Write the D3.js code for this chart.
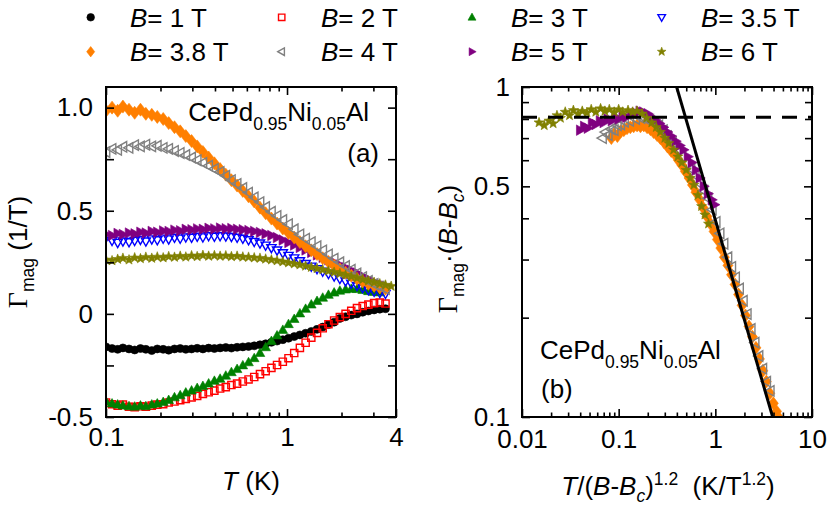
<!DOCTYPE html>
<html><head><meta charset="utf-8">
<script src="https://cdn.jsdelivr.net/npm/d3@7"></script>
<style>
body{margin:0;background:#fff}
svg{display:block}
text{white-space:pre}
</style></head><body>
<svg id="c" width="830" height="517"></svg>
<script>
// ---------- DATA ----------
const tempK = [0.100,0.108,0.116,0.124,0.134,0.144,0.155,0.166,0.179,0.192,0.207,0.222,0.239,0.257,0.276,0.297,0.319,0.343,0.369,0.397,0.427,0.459,0.493,0.530,0.570,0.613,0.659,0.709,0.762,0.820,0.881,0.948,1.019,1.096,1.178,1.267,1.362,1.465,1.575,1.694,1.821,1.958,2.106,2.264,2.435,2.618,2.815,3.027,3.255,3.500,3.763];

const gB1 = [-0.160,-0.168,-0.172,-0.165,-0.170,-0.175,-0.168,-0.172,-0.178,-0.170,-0.172,-0.176,-0.170,-0.168,-0.172,-0.170,-0.167,-0.170,-0.166,-0.168,-0.165,-0.163,-0.166,-0.162,-0.160,-0.158,-0.155,-0.150,-0.145,-0.138,-0.132,-0.125,-0.118,-0.110,-0.102,-0.094,-0.085,-0.075,-0.064,-0.052,-0.040,-0.022,-0.014,-0.006,0.000,0.008,0.014,0.019,0.023,0.025];
const gB2 = [-0.430,-0.438,-0.445,-0.440,-0.450,-0.452,-0.448,-0.450,-0.445,-0.440,-0.438,-0.430,-0.425,-0.418,-0.412,-0.405,-0.398,-0.388,-0.380,-0.372,-0.362,-0.355,-0.345,-0.338,-0.328,-0.318,-0.306,-0.292,-0.278,-0.262,-0.248,-0.232,-0.215,-0.190,-0.165,-0.140,-0.115,-0.092,-0.070,-0.050,-0.032,-0.016,0.000,0.015,0.028,0.038,0.045,0.052,0.055,0.050];
const gB3 = [-0.425,-0.435,-0.440,-0.445,-0.448,-0.450,-0.445,-0.448,-0.440,-0.435,-0.428,-0.418,-0.405,-0.395,-0.382,-0.372,-0.360,-0.350,-0.338,-0.325,-0.315,-0.300,-0.283,-0.268,-0.250,-0.235,-0.215,-0.190,-0.162,-0.132,-0.105,-0.078,-0.050,-0.025,0.002,0.024,0.045,0.062,0.078,0.092,0.103,0.112,0.118,0.121,0.120,0.116,0.110,0.106,0.104];
const gB35 = [0.370,0.355,0.345,0.352,0.348,0.355,0.360,0.352,0.362,0.358,0.366,0.362,0.370,0.366,0.372,0.370,0.375,0.372,0.378,0.375,0.378,0.376,0.374,0.370,0.365,0.358,0.350,0.342,0.332,0.320,0.308,0.295,0.282,0.270,0.256,0.243,0.230,0.218,0.206,0.194,0.182,0.170,0.158,0.147,0.136,0.126,0.116,0.108,0.102,0.098];
const gB38 = [0.985,1.000,0.985,1.005,0.990,0.975,0.990,0.970,0.965,0.955,0.945,0.925,0.905,0.885,0.862,0.838,0.812,0.785,0.758,0.730,0.702,0.675,0.648,0.622,0.596,0.570,0.545,0.515,0.488,0.462,0.438,0.414,0.392,0.370,0.348,0.328,0.308,0.290,0.270,0.252,0.234,0.216,0.200,0.185,0.170,0.157,0.146,0.136,0.128,0.122];
const gB4 = [0.785,0.800,0.795,0.810,0.805,0.818,0.812,0.820,0.812,0.815,0.805,0.800,0.790,0.780,0.770,0.758,0.745,0.732,0.718,0.703,0.688,0.670,0.648,0.630,0.610,0.588,0.565,0.542,0.518,0.495,0.475,0.455,0.435,0.410,0.385,0.365,0.348,0.328,0.308,0.288,0.268,0.250,0.232,0.214,0.196,0.178,0.160,0.145,0.132,0.120];
const gB5 = [0.385,0.380,0.390,0.385,0.392,0.388,0.396,0.392,0.400,0.396,0.402,0.400,0.406,0.403,0.410,0.408,0.412,0.410,0.415,0.412,0.416,0.413,0.414,0.410,0.408,0.404,0.400,0.395,0.388,0.380,0.370,0.358,0.346,0.334,0.322,0.310,0.298,0.286,0.274,0.262,0.250,0.237,0.224,0.211,0.198,0.182,0.168,0.155,0.144,0.135];
const gB6 = [0.262,0.258,0.265,0.270,0.262,0.272,0.268,0.275,0.270,0.276,0.272,0.278,0.275,0.280,0.276,0.282,0.278,0.284,0.280,0.283,0.280,0.282,0.278,0.280,0.276,0.275,0.272,0.270,0.266,0.262,0.258,0.253,0.248,0.243,0.238,0.232,0.226,0.220,0.214,0.208,0.202,0.195,0.188,0.181,0.174,0.167,0.160,0.153,0.146,0.140,0.134];

// scaled data, panel (b)
const sB38x = [0.084,0.090,0.097,0.105,0.113,0.122,0.132,0.143,0.155,0.168,0.182,0.197,0.213,0.230,0.250,0.270,0.295,0.320,0.350,0.380,0.415,0.450,0.490,0.535,0.580,0.630,0.690,0.750,0.820,0.890,0.970,1.050,1.140,1.240,1.350,1.470,1.600,1.740,1.890,2.050,2.230,2.420,2.630,2.860,3.100,3.370,3.660,3.980,4.300,4.600,4.900];
const sB38y = [0.700,0.720,0.710,0.735,0.740,0.750,0.755,0.760,0.765,0.760,0.765,0.755,0.745,0.730,0.715,0.700,0.680,0.660,0.640,0.625,0.600,0.580,0.555,0.530,0.505,0.480,0.455,0.430,0.405,0.385,0.365,0.345,0.325,0.305,0.288,0.270,0.252,0.235,0.218,0.203,0.188,0.175,0.162,0.150,0.138,0.128,0.118,0.110,0.104,0.099,0.096];
const sB4x = [0.068,0.073,0.078,0.084,0.090,0.097,0.105,0.115,0.130,0.150,0.170,0.190,0.210,0.235,0.260,0.290,0.320,0.360,0.400,0.450,0.500,0.560,0.620,0.690,0.760,0.840,0.930,1.020,1.120,1.230,1.350,1.480,1.620,1.780,1.950,2.140,2.350,2.580,2.830,3.100,3.400,3.700];
const sB4y = [0.700,0.730,0.715,0.745,0.740,0.765,0.770,0.785,0.790,0.800,0.805,0.800,0.795,0.780,0.765,0.740,0.710,0.680,0.650,0.615,0.585,0.565,0.540,0.510,0.485,0.460,0.425,0.390,0.360,0.335,0.305,0.285,0.265,0.245,0.225,0.205,0.185,0.168,0.153,0.140,0.128,0.120];
const sB5x = [0.040,0.044,0.048,0.053,0.058,0.064,0.070,0.077,0.085,0.093,0.100,0.110,0.120,0.135,0.150,0.165,0.180,0.200,0.220,0.240,0.265,0.290,0.320,0.350,0.390,0.430,0.470,0.520,0.570,0.630,0.690,0.760,0.840,0.920,0.980];
const sB5y = [0.740,0.760,0.750,0.780,0.770,0.790,0.780,0.800,0.790,0.810,0.800,0.820,0.810,0.830,0.835,0.845,0.840,0.830,0.810,0.795,0.775,0.755,0.730,0.710,0.685,0.665,0.645,0.615,0.590,0.560,0.530,0.500,0.475,0.455,0.440];
const sB6x = [0.015,0.017,0.019,0.021,0.023,0.025,0.028,0.031,0.034,0.038,0.042,0.047,0.052,0.058,0.065,0.072,0.080,0.090,0.100,0.110,0.125,0.140,0.155,0.175,0.195,0.220,0.245,0.270,0.300,0.330,0.370,0.410,0.450,0.500,0.550,0.600,0.660,0.720,0.780,0.850];
const sB6y = [0.780,0.765,0.790,0.775,0.820,0.805,0.840,0.820,0.850,0.830,0.845,0.835,0.855,0.840,0.860,0.845,0.855,0.840,0.855,0.840,0.850,0.840,0.845,0.830,0.805,0.780,0.755,0.730,0.700,0.675,0.645,0.615,0.590,0.560,0.530,0.505,0.470,0.435,0.410,0.385];

const fitSolid = [[0.398,1.0],[3.92,0.1]];
const plateau = 0.81;

const fieldLabels = ["1","2","3","3.5","3.8","4","5","6"];
const colors = ["#000000","#ff0000","#008000","#0000ff","#ff7f00","#808080","#800080","#808000"];
const shapes = ["circle","square","up","down","diamond","left","right","star"];
const filled = [true,false,true,false,true,false,true,true];

const xTicksA = [0.1,1,4], xTickLabA = ["0.1","1","4"];
const xMinorA = [0.2,0.3,0.4,0.5,0.6,0.7,0.8,0.9,2,3];
const yTicksA = [-0.5,0,0.5,1.0], yTickLabA = ["-0.5","0","0.5","1.0"];
const yMinorA = [-0.25,0.25,0.75];
const xTicksB = [0.01,0.1,1,10], xTickLabB = ["0.01","0.1","1","10"];
const xMinorB = [0.02,0.03,0.04,0.05,0.06,0.07,0.08,0.09,0.2,0.3,0.4,0.5,0.6,0.7,0.8,0.9,2,3,4,5,6,7,8,9];
const yTicksB = [0.1,0.5,1], yTickLabB = ["0.1","0.5","1"];
const yMinorB = [0.2,0.3,0.4,0.6,0.7,0.8,0.9];

// ---------- DRAW ----------
const svg = d3.select('#c');
const SANS = '"Liberation Sans", Arial, Helvetica, sans-serif';
const SERIF = '"Liberation Serif", "Times New Roman", serif';
const FS = 26, FSS = 17.5;

const xA = d3.scaleLog().domain([0.1,4]).range([106,396]);
const yA = d3.scaleLinear().domain([-0.5,1.1]).range([417,87]);
const xB = d3.scaleLog().domain([0.01,10]).range([522,812]);
const yB = d3.scaleLog().domain([0.1,1]).range([417,87]);

function shapePath(type, r){
  switch(type){
    case 'circle': return d3.symbol(d3.symbolCircle, Math.PI*r*r)();
    case 'square': return `M${-r},${-r}H${r}V${r}H${-r}Z`;
    case 'up': return `M0,${-r*1.1}L${r*1.05},${r*0.75}L${-r*1.05},${r*0.75}Z`;
    case 'down': return `M0,${r*1.1}L${r*1.05},${-r*0.75}L${-r*1.05},${-r*0.75}Z`;
    case 'left': return `M${-r*1.1},0L${r*0.75},${-r*1.05}L${r*0.75},${r*1.05}Z`;
    case 'right': return `M${r*1.1},0L${-r*0.75},${-r*1.05}L${-r*0.75},${r*1.05}Z`;
    case 'diamond': return `M0,${-r*1.3}L${r},0L0,${r*1.3}L${-r},0Z`;
    case 'star': {
      let p = '';
      for(let k=0;k<10;k++){
        const rr = k%2===0 ? r*1.2 : r*0.5;
        const a = -Math.PI/2 + k*Math.PI/5;
        p += (k===0?'M':'L') + (rr*Math.cos(a)).toFixed(2) + ',' + (rr*Math.sin(a)).toFixed(2);
      }
      return p+'Z';
    }
  }
}
const sizeA = [4,3.6,4.6,4.4,5,5,5,4.4];
const sizeLeg = [3.8,3.2,3.8,3.6,4,3.6,3.8,3.8];

function drawMarkers(g, pts, idx, size){
  g.selectAll(null).data(pts).enter().append('path')
    .attr('d', shapePath(shapes[idx], size))
    .attr('transform', d => `translate(${d[0]},${d[1]})`)
    .attr('fill', filled[idx] ? colors[idx] : 'none')
    .attr('stroke', colors[idx])
    .attr('stroke-width', filled[idx] ? 0.6 : 1.4);
}

const defs = svg.append('defs');
defs.append('clipPath').attr('id','clipA').append('rect').attr('x',106).attr('y',87).attr('width',290).attr('height',330);
defs.append('clipPath').attr('id','clipB').append('rect').attr('x',522).attr('y',87).attr('width',290).attr('height',330);

// Panel (a) data
const seriesA = [gB1,gB2,gB3,gB35,gB38,gB4,gB5,gB6];
const orderA = [0,1,2,3,6,4,5,7];
const gA = svg.append('g').attr('clip-path','url(#clipA)');
orderA.forEach(i => {
  const pts = seriesA[i].map((v,k) => [xA(tempK[k]), yA(v)]);
  drawMarkers(gA, pts, i, sizeA[i]);
});

// Panel (b) data
const gBp = svg.append('g').attr('clip-path','url(#clipB)');
const seriesB = [[4,sB38x,sB38y],[5,sB4x,sB4y],[6,sB5x,sB5y],[7,sB6x,sB6y]];
seriesB.forEach(([i,xs,ys]) => {
  const pts = xs.map((x,k) => [xB(x), yB(ys[k])]);
  drawMarkers(gBp, pts, i, sizeA[i]);
});
gBp.append('line').attr('x1',xB(0.01)).attr('x2',xB(10)).attr('y1',yB(plateau)).attr('y2',yB(plateau))
  .attr('stroke','#000').attr('stroke-width',3).attr('stroke-dasharray','15,11');
gBp.append('line').attr('x1',xB(fitSolid[0][0])).attr('y1',yB(fitSolid[0][1]))
  .attr('x2',xB(fitSolid[1][0])).attr('y2',yB(fitSolid[1][1]))
  .attr('stroke','#000').attr('stroke-width',3);

// Axes
function axes(x, y, o){
  const [X0,X1] = x.range(); const [Y1,Y0] = y.range();
  const g = svg.append('g');
  const mk = (axis, tr) => {
    const a = g.append('g').attr('transform', tr).call(axis);
    a.select('.domain').remove();
    a.attr('font-family', SANS).attr('font-size', FS);
    a.selectAll('line').attr('stroke','#000').attr('stroke-width',1.6);
    a.selectAll('text').attr('fill','#000');
    return a;
  };
  mk(d3.axisBottom(x).tickValues(o.xMaj).tickSize(-8).tickPadding(o.padX).tickFormat((d,i)=>o.xLab[i]), `translate(0,${Y1})`);
  mk(d3.axisBottom(x).tickValues(o.xMin).tickSize(-4.5).tickFormat(''), `translate(0,${Y1})`);
  mk(d3.axisTop(x).tickValues(o.xMaj).tickSize(-8).tickFormat(''), `translate(0,${Y0})`);
  mk(d3.axisTop(x).tickValues(o.xMin).tickSize(-4.5).tickFormat(''), `translate(0,${Y0})`);
  mk(d3.axisLeft(y).tickValues(o.yMaj).tickSize(-8).tickPadding(o.padY).tickFormat((d,i)=>o.yLab[i]), `translate(${X0},0)`);
  mk(d3.axisLeft(y).tickValues(o.yMin).tickSize(-o.yMinLen).tickFormat(''), `translate(${X0},0)`);
  mk(d3.axisRight(y).tickValues(o.yMaj).tickSize(-8).tickFormat(''), `translate(${X1},0)`);
  mk(d3.axisRight(y).tickValues(o.yMin).tickSize(-o.yMinLen).tickFormat(''), `translate(${X1},0)`);
  g.append('rect').attr('x',X0).attr('y',Y0).attr('width',X1-X0).attr('height',Y1-Y0)
    .attr('fill','none').attr('stroke','#000').attr('stroke-width',2);
}
axes(xA, yA, {xMaj:xTicksA, xLab:xTickLabA, xMin:xMinorA, yMaj:yTicksA, yLab:yTickLabA, yMin:yMinorA, yMinLen:8, padX:11, padY:13});
axes(xB, yB, {xMaj:xTicksB, xLab:xTickLabB, xMin:xMinorB, yMaj:yTicksB, yLab:yTickLabB, yMin:yMinorB, yMinLen:7, padX:13, padY:12});

function rich(parent, parts, attrs){
  const t = parent.append('text').attr('font-family', SANS).attr('fill','#000');
  Object.entries(attrs).forEach(([k,v]) => t.attr(k,v));
  parts.forEach(p => {
    const s = t.append('tspan').text(p.t).attr('font-size', p.s || FS);
    if(p.i) s.attr('font-style','italic');
    if(p.f) s.attr('font-family', p.f);
    if(p.dy) s.attr('dy', p.dy);
  });
  return t;
}

// Axis titles
rich(svg, [{t:'T', i:1},{t:' (K)'}], {x:251, y:490, 'text-anchor':'middle'});
rich(svg, [{t:'T', i:1},{t:'/('},{t:'B', i:1},{t:'-'},{t:'B', i:1},{t:'c', i:1, s:FSS, dy:7},{t:')', dy:-7},
           {t:'1.2', s:FSS, dy:-10},{t:'\u00a0\u00a0(K/T', dy:10},{t:'1.2', s:FSS, dy:-10},{t:')', dy:10}],
     {x:668, y:495, 'text-anchor':'middle'});
rich(svg, [{t:'Γ', f:SERIF, s:28},{t:'mag', s:FSS, dy:7},{t:' (1/T)', dy:-7}],
     {transform:'translate(27,252) rotate(-90)', 'text-anchor':'middle'});
rich(svg, [{t:'Γ', f:SERIF, s:28},{t:'mag', s:FSS, dy:7},{t:'·(', dy:-7},{t:'B', i:1},{t:'-'},{t:'B', i:1},{t:'c', i:1, s:FSS, dy:7},{t:')', dy:-7}],
     {transform:'translate(457,249) rotate(-90)', 'text-anchor':'middle'});

// Annotations
const comp = [{t:'CePd'},{t:'0.95', s:FSS, dy:9},{t:'Ni', dy:-9},{t:'0.05', s:FSS, dy:9},{t:'Al', dy:-9}];
rich(svg, comp, {x:369, y:121, 'text-anchor':'end'});
rich(svg, [{t:'(a)'}], {x:379, y:162, 'text-anchor':'end'});
rich(svg, comp, {x:540, y:359});
rich(svg, [{t:'(b)'}], {x:541, y:398});

// Legend
const legMX = [90.7,281.7,472,661.7], legTX = [130,321,511,701];
const legMY = [17.3,51.7], legTY = [26.5,61];
fieldLabels.forEach((lab,i) => {
  const col = i%4, row = Math.floor(i/4);
  const g = svg.append('g');
  drawMarkers(g, [[legMX[col], legMY[row]]], i, sizeLeg[i]);
  rich(svg, [{t:'B', i:1},{t:'= '+lab+' T'}], {x:legTX[col], y:legTY[row]});
});
</script>
</body></html>
